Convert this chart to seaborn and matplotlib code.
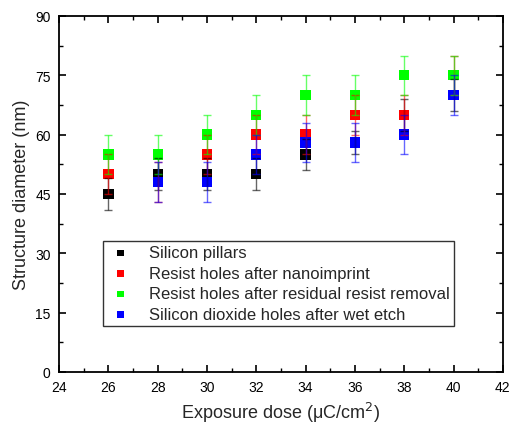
import numpy as np
import pandas as pd
import matplotlib
matplotlib.use("Agg")
import matplotlib.pyplot as plt
import seaborn as sns
from matplotlib.ticker import MultipleLocator

# dati
dose = [26, 28, 30, 32, 34, 36, 38, 40]
pillars = [45, 50, 50, 50, 55, 58, 65, 70]
pillars_err = [4, 4, 4, 4, 4, 3, 4, 4]
nanoimprint = [50, 48, 55, 60, 60, 65, 65, 75]
nanoimprint_err = [5, 5, 5, 5, 5, 5, 5, 5]
residual = [55, 55, 60, 65, 70, 70, 75, 75]
residual_err = [5, 5, 5, 5, 5, 5, 5, 5]
wet_etch = [np.nan, 48, 48, 55, 58, 58, 60, 70]
wet_etch_err = [np.nan, 5, 5, 5, 5, 5, 5, 5]

labels = ["Silicon pillars", "Resist holes after nanoimprint",
          "Resist holes after residual resist removal",
          "Silicon dioxide holes after wet etch"]
colors = ["#000000", "#ff0000", "#00ff00", "#0000ff"]

rows = []
for lab, vals, errs in zip(labels, [pillars, nanoimprint, residual, wet_etch],
                           [pillars_err, nanoimprint_err, residual_err, wet_etch_err]):
    for d, v, e in zip(dose, vals, errs):
        rows.append({"dose": d, "diam": v, "err": e, "serie": lab})
df = pd.DataFrame(rows).dropna()

sns.set_theme(style="ticks")
plt.rcParams['font.family'] = ['Liberation Sans', 'DejaVu Sans']

fig = plt.figure(figsize=(5.09, 4.31), dpi=100)
ax = fig.add_axes([0.116, 0.1346, 0.872, 0.826])

# quadratini sotto, barre d'errore sopra (come in Origin)
for i, (lab, col) in enumerate(zip(labels, colors)):
    sub = df[df["serie"] == lab]
    sns.scatterplot(data=sub, x="dose", y="diam", color=col, marker="s", s=55,
                    edgecolor="none", ax=ax, zorder=3 + i, label=lab)
    ax.errorbar(sub["dose"], sub["diam"], yerr=sub["err"], fmt="none",
                ecolor=col, elinewidth=1.0, capsize=3, capthick=1.0, alpha=0.6,
                zorder=10 + i)

ax.set_xlim(24, 42)
ax.set_ylim(0, 90)
ax.xaxis.set_major_locator(MultipleLocator(2))
ax.xaxis.set_minor_locator(MultipleLocator(1))
ax.yaxis.set_major_locator(MultipleLocator(15))
ax.yaxis.set_minor_locator(MultipleLocator(7.5))
ax.tick_params(which="both", direction="in", top=True, right=True, labelsize=10, colors="black")
ax.tick_params(which="major", length=5, width=1.2, pad=6)
ax.tick_params(which="minor", length=3, width=1.0)
for sp in ax.spines.values():
    sp.set_linewidth(1.3)
    sp.set_color("black")

ax.set_xlabel("Exposure dose (\u03bcC/cm$^2$)", fontsize=13)
ax.set_ylabel("Structure diameter (nm)", fontsize=13)

leg = ax.legend(loc="lower left", bbox_to_anchor=(0.099, 0.129), borderaxespad=0,
                fontsize=12, frameon=True, fancybox=False, edgecolor="black",
                handletextpad=0.9, borderpad=0.25, labelspacing=0.33,
                markerscale=0.6, handlelength=1.6)
leg.get_frame().set_linewidth(1.0)
leg.set_zorder(20)

fig.savefig("out.png", dpi=100)
